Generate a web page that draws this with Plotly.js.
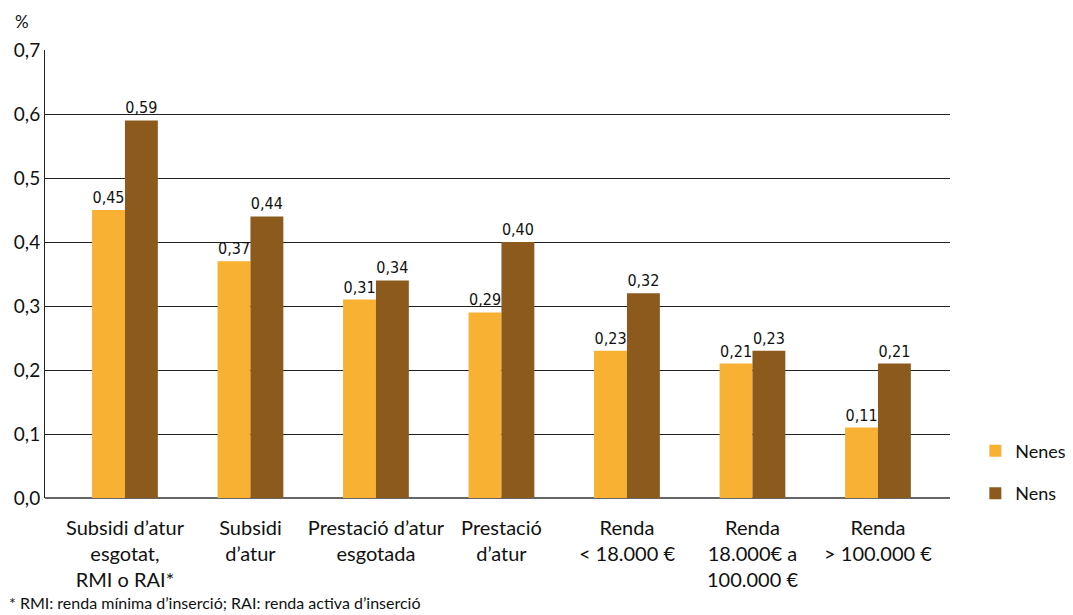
<!DOCTYPE html>
<html><head><meta charset="utf-8">
<script src="https://cdn.plot.ly/plotly-3.0.1.min.js"></script>
<style>html,body{margin:0;padding:0;background:#fff}</style>
</head><body><div id="chart" style="width:1073px;height:615px"></div>
<script>
const categories = [
  "Subsidi d’atur<br>esgotat,<br>RMI o RAI*",
  "Subsidi<br>d’atur",
  "Prestació d’atur<br>esgotada",
  "Prestació<br>d’atur",
  "Renda<br>< 18.000 €",
  "Renda<br>18.000€ a<br>100.000 €",
  "Renda<br>> 100.000 €"
];
const nenes = [0.45, 0.37, 0.31, 0.29, 0.23, 0.21, 0.11];
const nens  = [0.59, 0.44, 0.34, 0.40, 0.32, 0.23, 0.21];
const yTicks = [0, 0.1, 0.2, 0.3, 0.4, 0.5, 0.6, 0.7];

const xs = categories.map((_, i) => i);
const labelFont = {family: "Liberation Sans Narrow, DejaVu Sans Condensed, Roboto, sans-serif", size: 16, color: "#111"};
const traces = [
  {type: "bar", name: "Nenes", x: xs, y: nenes, width: 0.262, offset: -0.262,
   marker: {color: "#F8B133"}, texttemplate: "%{y:.2f}", textposition: "outside",
   textfont: labelFont, cliponaxis: false, legendgroup: "a", hoverinfo: "none"},
  {type: "bar", name: "Nens", x: xs, y: nens, width: 0.262, offset: 0,
   marker: {color: "#8B5A1C"}, texttemplate: "%{y:.2f}", textposition: "outside",
   textfont: labelFont, cliponaxis: false, legendgroup: "b", hoverinfo: "none"}
];
const layout = {
  width: 1073, height: 615,
  margin: {l: 45, r: 123, t: 50, b: 117, autoexpand: false},
  separators: ",.",
  paper_bgcolor: "#fff", plot_bgcolor: "#fff",
  font: {family: "Lato, Open Sans, sans-serif", size: 18, color: "#111"},
  showlegend: true,
  legend: {x: 1.028, y: 0.146, xanchor: "left", yanchor: "top", tracegroupgap: 16,
           font: {size: 18, color: "#111"}, bgcolor: "rgba(0,0,0,0)"},
  xaxis: {range: [-0.637, 6.574], tickvals: xs, ticktext: categories, showgrid: false,
          zeroline: false, showline: false, ticks: "", ticklabelstandoff: 16,
          tickfont: {size: 20}, fixedrange: true},
  yaxis: {range: [0, 0.7], tickvals: yTicks, tickformat: ".1f", showgrid: true,
          gridcolor: "#222", gridwidth: 1, zeroline: true, zerolinecolor: "#666", zerolinewidth: 2,
          showline: true, linecolor: "#222", linewidth: 1, ticks: "", ticklen: 0,
          tickfont: {size: 19}, fixedrange: true},
  annotations: [
    {text: "%", xref: "paper", yref: "paper", x: -0.025, y: 1.063, xanchor: "center", yanchor: "middle",
     showarrow: false, font: {size: 17}},
    {text: "* RMI: renda mínima d’inserció; RAI: renda activa d’inserció", xref: "paper", yref: "paper",
     x: -0.041, y: -0.233, xanchor: "left", yanchor: "middle", showarrow: false, borderpad: 0,
     font: {size: 16}}
  ]
};
Plotly.newPlot("chart", traces, layout, {displayModeBar: false, staticPlot: true});
</script></body></html>
